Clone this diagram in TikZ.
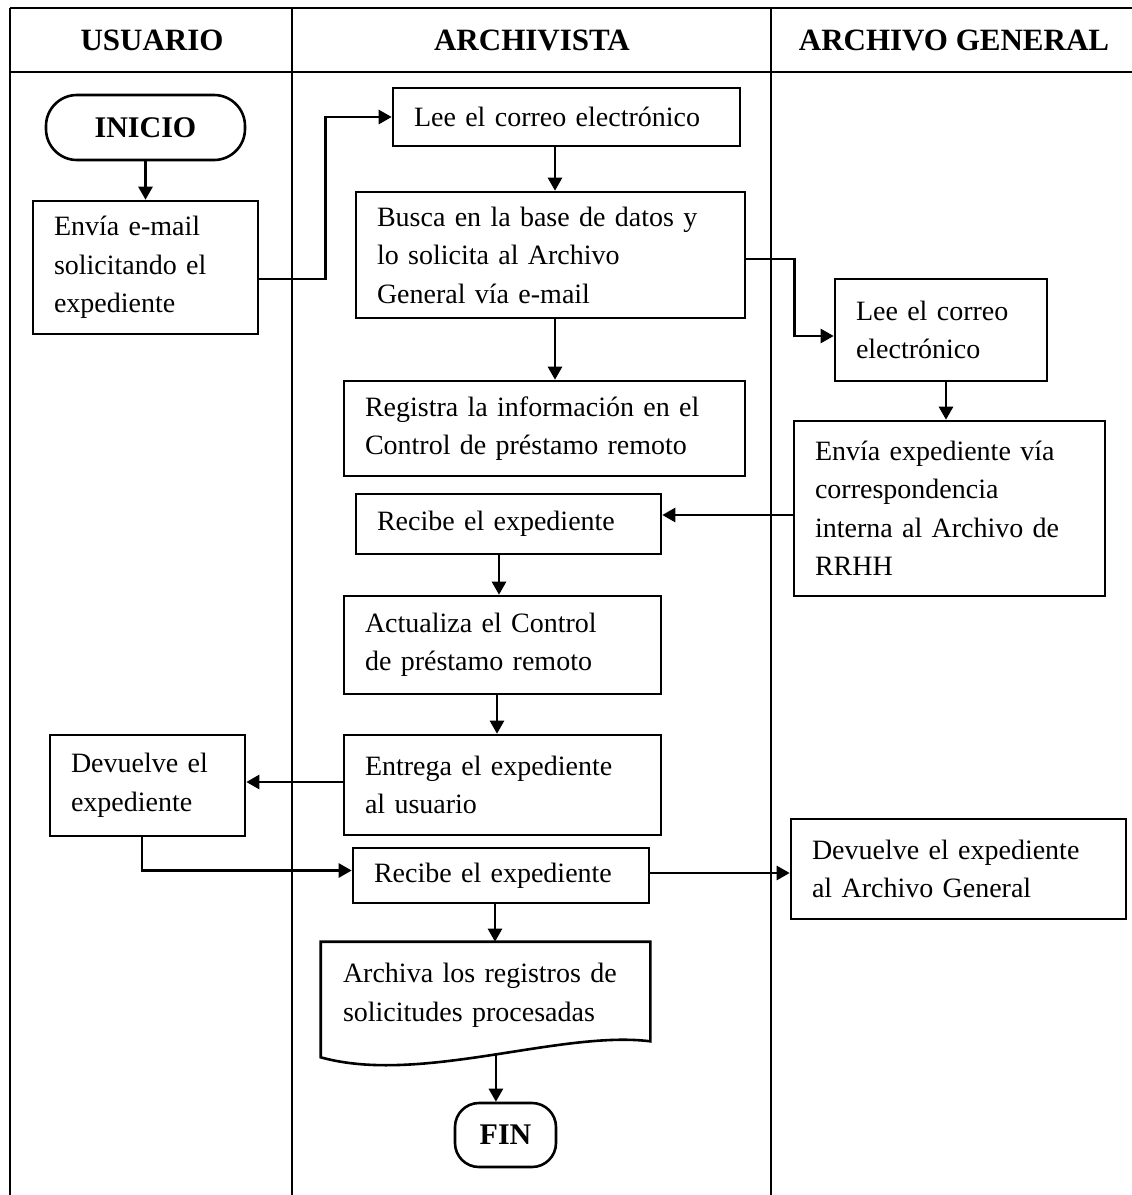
\documentclass[tikz,border=0pt]{standalone}
\usepackage{fontspec}
\setmainfont{Liberation Serif}
\usetikzlibrary{arrows.meta}

\begin{document}
\begin{tikzpicture}[x=1pt,y=-1pt,
  lane/.style={line width=2.6pt},
  box/.style={draw,line width=2.6pt,rectangle,inner xsep=21pt,inner ysep=0pt,
    align=left,font=\fontsize{28pt}{38.5pt}\selectfont},
  term/.style={draw,line width=2.6pt,rectangle,inner sep=0pt,
    font=\fontsize{30pt}{36pt}\selectfont\bfseries},
  head/.style={font=\fontsize{31pt}{36pt}\selectfont\bfseries},
  arr/.style={line width=2.6pt,-{Triangle[length=13pt,width=14pt]}}]

\useasboundingbox (0,0) rectangle (1132,1195);

% swimlane frame
\draw[lane] (10,8) -- (1132,8);
\draw[lane] (10,72) -- (1132,72);
\draw[lane] (10,8) -- (10,1195);
\draw[lane] (292,8) -- (292,1195);
\draw[lane] (771,8) -- (771,1195);

\node[head] (hus) at (152,40) {USUARIO};
\node[head] (har) at (532,40) {ARCHIVISTA};
\node[head] (hag) at (954,40) {ARCHIVO GENERAL};

% USUARIO lane
\node[term,rounded corners=31pt,minimum width=199pt,minimum height=65pt]
  (inicio) at (145.5,127.5) {INICIO};
\node[box,text width=183pt,minimum height=133pt]
  (envia) at (145.5,267.5) {Envía e-mail\\solicitando el\\expediente};
\node[box,text width=153pt,minimum height=101pt]
  (devus) at (147.5,785.5) {Devuelve el\\expediente};

% ARCHIVISTA lane
\node[box,text width=305pt,minimum height=58pt]
  (lee) at (566.5,117) {Lee el correo electrónico};
\node[box,text width=347pt,minimum height=126pt]
  (busca) at (550.5,255) {Busca en la base de datos y\\lo solicita al Archivo\\General vía e-mail};
\node[box,text width=359pt,minimum height=95pt]
  (registra) at (544.5,428.5) {Registra la información en el\\Control de préstamo remoto};
\node[box,text width=263pt,minimum height=60pt]
  (recibe) at (508.5,524) {Recibe el expediente};
\node[box,text width=275pt,minimum height=98pt]
  (actualiza) at (502.5,645) {Actualiza el Control\\de préstamo remoto};
\node[box,text width=275pt,minimum height=100pt]
  (entrega) at (502.5,785) {Entrega el expediente\\al usuario};
\node[box,text width=254pt,minimum height=55pt]
  (recibeb) at (501,875.5) {Recibe el expediente};
\node[box,draw=none,text width=285pt,minimum height=105pt]
  (archiva) at (485.5,995.5) {Archiva los registros de\\solicitudes procesadas};
% document outline with wavy bottom edge
\draw[line width=2.6pt,line join=miter]
  ([yshift=-8pt]archiva.south west) -- (archiva.north west) -- (archiva.north east)
  -- ([yshift=8pt]archiva.south east)
  .. controls (560,1030) and (420,1085) ..
  coordinate[pos=0.48] (archbot) ([yshift=-8pt]archiva.south west) -- cycle;
\node[term,rounded corners=24pt,minimum width=101pt,minimum height=64pt]
  (fin) at (505.5,1135) {FIN};

% ARCHIVO GENERAL lane
\node[box,text width=170pt,minimum height=102pt]
  (leeag) at (941,330) {Lee el correo\\electrónico};
\node[box,text width=269pt,minimum height=175pt]
  (enviaag) at (949.5,508.5) {Envía expediente vía\\correspondencia\\interna al Archivo de\\RRHH};
\node[box,text width=293pt,minimum height=100pt]
  (devag) at (958.5,869) {Devuelve el expediente\\al Archivo General};

% connectors
\draw[arr] (inicio.south) -- (inicio.south |- envia.north);
\draw[arr] ([yshift=-11.5pt]envia.east) -- ++(66,0) |- (lee.west);
\coordinate (c1) at ([xshift=-11.5pt]lee.south);
\draw[arr] (c1) -- (c1 |- busca.north);
\coordinate (c2) at ([xshift=4.5pt]busca.south);
\draw[arr] (c2) -- (c2 |- registra.north);
\draw[arr] ([yshift=-4pt]busca.east) -- ++(48,0) |- ([yshift=-6pt]leeag.west);
\coordinate (c3) at ([xshift=5pt]leeag.south);
\draw[arr] (c3) -- (c3 |- enviaag.north);
\coordinate (c4) at ([yshift=-6.5pt]enviaag.west);
\draw[arr] (c4) -- (c4 -| recibe.east);
\coordinate (c5) at ([xshift=-9.5pt]recibe.south);
\draw[arr] (c5) -- (c5 |- actualiza.north);
\coordinate (c6) at ([xshift=-5.5pt]actualiza.south);
\draw[arr] (c6) -- (c6 |- entrega.north);
\coordinate (c7) at ([yshift=3pt]entrega.west);
\draw[arr] (c7) -- (c7 -| devus.east);
\draw[arr] ([xshift=-5.5pt]devus.south) |- ([yshift=5pt]recibeb.west);
\coordinate (c8) at ([yshift=2.5pt]recibeb.east);
\draw[arr] (c8) -- (c8 -| devag.west);
\coordinate (c9) at ([xshift=-6pt]recibeb.south);
\draw[arr] (c9) -- (c9 |- archiva.north);
\draw[arr] (archbot) -- (archbot |- fin.north);
\end{tikzpicture}
\end{document}
